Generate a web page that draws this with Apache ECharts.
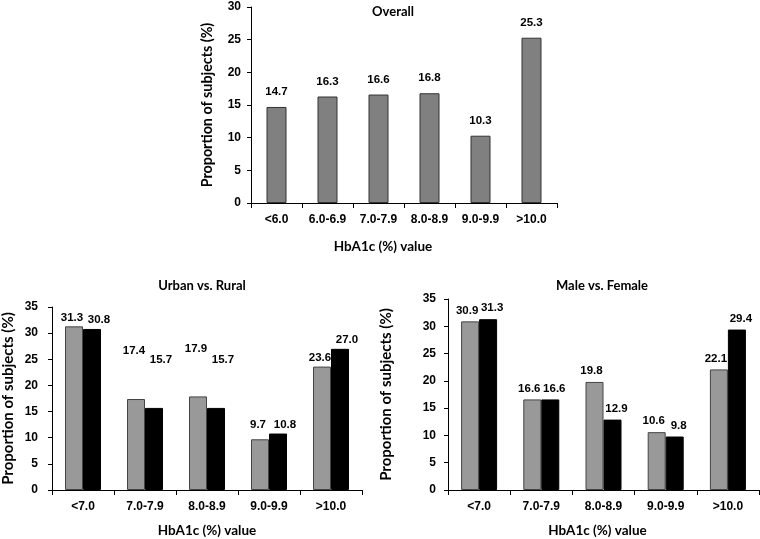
<!DOCTYPE html>
<html>
<head>
<meta charset="utf-8">
<script src="https://cdn.jsdelivr.net/npm/echarts@6/dist/echarts.min.js"></script>
<style>
    html, body { margin: 0; padding: 0; background: #fff; }
    #main { width: 760px; height: 539px; }
</style>
</head>
<body>
<div id="main"></div>
<script>
// 数据
var overallCats = ['<6.0', '6.0-6.9', '7.0-7.9', '8.0-8.9', '9.0-9.9', '>10.0'];
var overallVals = [14.7, 16.3, 16.6, 16.8, 10.3, 25.3];

var groupCats = ['<7.0', '7.0-7.9', '8.0-8.9', '9.0-9.9', '>10.0'];
var urbanVals = [31.3, 17.4, 17.9, 9.7, 23.6];
var ruralVals = [30.8, 15.7, 15.7, 10.8, 27.0];
var maleVals = [30.9, 16.6, 19.8, 10.6, 22.1];
var femaleVals = [31.3, 16.6, 12.9, 9.8, 29.4];

var tickFont = {fontFamily: 'Liberation Sans', fontWeight: 'bold', fontSize: 12, color: '#000'};
var nameFont = {fontFamily: 'Lato', fontWeight: 'bold', fontSize: 13, color: '#000'};

function xAxisFor(idx, cats, pad) {
    return {
        type: 'category',
        gridIndex: idx,
        data: cats,
        name: 'HbA1c (%) value',
        nameLocation: 'middle',
        nameGap: idx === 0 ? 37 : 34,
        nameTextStyle: Object.assign({}, nameFont, {fontSize: 13.5, padding: pad}),
        axisLine: {lineStyle: {color: '#000', width: 1}},
        axisTick: {show: true, length: 5, lineStyle: {color: '#000'}},
        axisLabel: Object.assign({}, tickFont, {margin: 11, interval: 0})
    };
}

function yAxisFor(idx, max, gap, margin) {
    return {
        type: 'value',
        gridIndex: idx,
        min: 0,
        max: max,
        interval: 5,
        name: 'Proportion of subjects (%)',
        nameLocation: 'middle',
        nameGap: gap,
        nameTextStyle: Object.assign({}, nameFont, {fontSize: idx === 0 ? 14.3 : 15}),
        splitLine: {show: false},
        axisLine: {show: true, lineStyle: {color: '#000', width: 1}},
        axisTick: {show: true, length: 4, lineStyle: {color: '#000'}},
        axisLabel: Object.assign({}, tickFont, {margin: margin})
    };
}

function barLabel(dist, dx) {
    return {
        show: true,
        position: 'top',
        distance: dist,
        offset: [dx, 0],
        fontFamily: 'Liberation Sans',
        fontWeight: 'bold',
        fontSize: 11.5,
        color: '#000',
        formatter: function (p) { return p.value.toFixed(1); }
    };
}

var myChart = echarts.init(document.getElementById('main'), null, {renderer: 'canvas'});

var option = {
    backgroundColor: '#fff',
    animation: false,
    title: [
        {text: 'Overall', left: 388, top: 0, textAlign: 'center', textStyle: nameFont},
        {text: 'Urban vs. Rural', left: 197, top: 274, textAlign: 'center', textStyle: nameFont},
        {text: 'Male vs. Female', left: 597, top: 274, textAlign: 'center', textStyle: nameFont}
    ],
    grid: [
        {left: 251, top: 7, width: 306, height: 196},
        {left: 52, top: 307, width: 310, height: 185},
        {left: 448, top: 299, width: 311, height: 193}
    ],
    xAxis: [
        xAxisFor(0, overallCats, [0, 42, 0, 0]),
        xAxisFor(1, groupCats, [0, 0, 0, 0]),
        xAxisFor(2, groupCats, [0, 12, 0, 0])
    ],
    yAxis: [
        yAxisFor(0, 30, 37, 10),
        yAxisFor(1, 35, 36, 14),
        yAxisFor(2, 35, 54, 12)
    ],
    series: [
        {
            name: 'Overall',
            type: 'bar',
            xAxisIndex: 0,
            yAxisIndex: 0,
            barWidth: 20,
            data: overallVals,
            itemStyle: {color: '#808080', borderColor: '#333', borderWidth: 1},
            label: barLabel(9, 0)
        },
        {
            name: 'Urban',
            type: 'bar',
            xAxisIndex: 1,
            yAxisIndex: 1,
            barWidth: 18,
            barGap: '0%',
            // 7.0-7.9 和 8.0-8.9 的标签在原图中抬得更高
            data: urbanVals.map(function (v, i) {
                return {value: v, label: {distance: (i === 1 || i === 2) ? 42 : (i === 3 ? 8 : 3)}};
            }),
            itemStyle: {color: '#999999', borderColor: '#444', borderWidth: 1},
            label: barLabel(3, -2)
        },
        {
            name: 'Rural',
            type: 'bar',
            xAxisIndex: 1,
            yAxisIndex: 1,
            barWidth: 18,
            barGap: '0%',
            data: ruralVals.map(function (v, i) {
                return {value: v, label: {distance: (i === 1 || i === 2) ? 42 : 3}};
            }),
            itemStyle: {color: '#000', borderColor: '#000', borderWidth: 1},
            label: barLabel(3, 7)
        },
        {
            name: 'Male',
            type: 'bar',
            xAxisIndex: 2,
            yAxisIndex: 2,
            barWidth: 18,
            barGap: '0%',
            data: maleVals,
            itemStyle: {color: '#999999', borderColor: '#444', borderWidth: 1},
            label: barLabel(5, -3)
        },
        {
            name: 'Female',
            type: 'bar',
            xAxisIndex: 2,
            yAxisIndex: 2,
            barWidth: 18,
            barGap: '0%',
            data: femaleVals,
            itemStyle: {color: '#000', borderColor: '#000', borderWidth: 1},
            label: barLabel(5, 4)
        }
    ]
};

myChart.setOption(option);
</script>
</body>
</html>
